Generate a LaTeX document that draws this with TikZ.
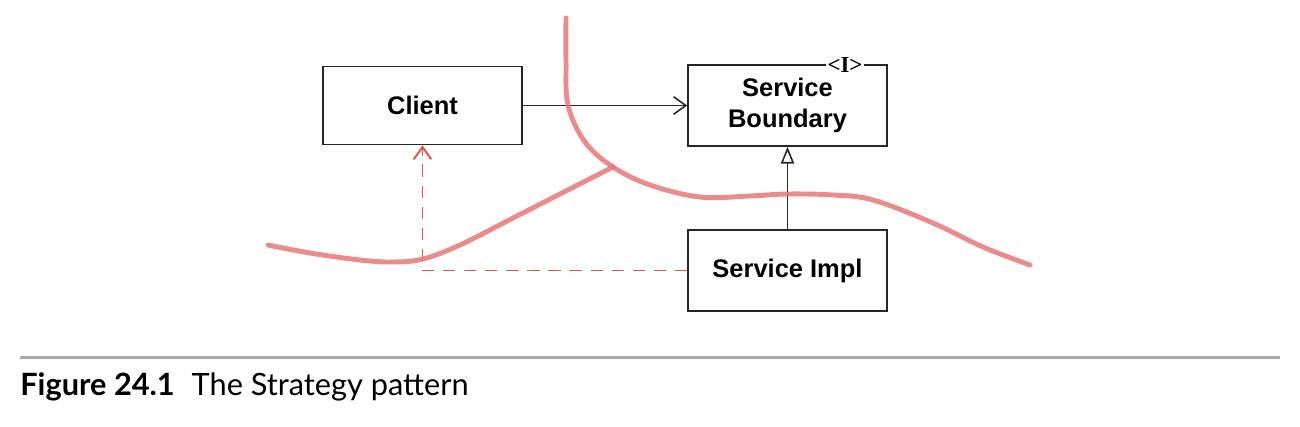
\documentclass[tikz,border=0pt]{standalone}
\usepackage{fontspec}
\setmainfont{Liberation Sans}
\newfontfamily\capfont{Lato}
\newfontfamily\serfont{Liberation Serif}
\usetikzlibrary{arrows.meta}
\definecolor{hand}{RGB}{232,120,120}
\definecolor{dashred}{RGB}{222,84,84}
\definecolor{rulegray}{RGB}{170,170,170}
\tikzset{
  umlbox/.style={draw=black!85, line width=0.95pt, minimum width=3.98cm, minimum height=1.6cm, align=center, font=\fontsize{14.5}{18}\selectfont\bfseries, inner sep=0pt},
  assoc/.style={draw=black!85, line width=0.9pt, -{Straight Barb[length=7pt,width=10pt,line width=0.9pt]}},
  realize/.style={draw=black!85, line width=0.9pt, -{Triangle[open,length=9.5pt,width=7.5pt,fill=white,line width=0.9pt]}},
  depend/.style={draw=dashred, line width=1.1pt, dash pattern=on 7pt off 5pt, -{Straight Barb[length=7pt,width=10pt,line width=1.1pt]}},
  sketch/.style={draw=hand, line width=2.8pt, line cap=round, line join=round, opacity=0.85},
}
\begin{document}
\begin{tikzpicture}[x=0.02cm,y=-0.02cm]
\useasboundingbox[fill=white] (0,0) rectangle (1300,426);
\node[umlbox, minimum height=1.56cm] (client) at (422.5,105.5) {Client};
\node[umlbox, minimum height=1.62cm] (sb) at (787.5,105.5) {Service\\Boundary};
\node[umlbox, minimum height=1.62cm] (si) at (787.5,270.5) {Service Impl};
\node[fill=white, inner sep=1pt, font=\serfont\bfseries\fontsize{13}{13}\selectfont] (iface) at (845,65) {<I>};
\draw[assoc] (client.east) -- (sb.west);
\draw[realize] (si.north) -- (sb.south);
\coordinate (bend) at (client.south |- si.west);
\draw[depend] (si.west) -- (bend) -- (client.south);
% hand-drawn boundary lines
\draw[sketch] plot[smooth, tension=0.6] coordinates {(566,18) (566,60) (568,105) (585,142) (613,167) (650,185) (700,197) (750,196) (787,194) (833,195) (873,200) (933,223) (983,247) (1030,265)};
\draw[sketch] plot[smooth, tension=0.6] coordinates {(268,245) (310,253) (360,260) (393,262) (423,259) (460,245) (513,218) (560,194) (613,167)};
% caption
\draw[rulegray, line width=1.7pt] (20,357) -- (1280,357);
\node[anchor=base west, inner sep=0pt, font=\capfont\fontsize{17.5}{20}\selectfont] (cap) at (20,395) {\textbf{Figure 24.1}\hspace{0.55em}The Strategy pattern};
\end{tikzpicture}
\end{document}
